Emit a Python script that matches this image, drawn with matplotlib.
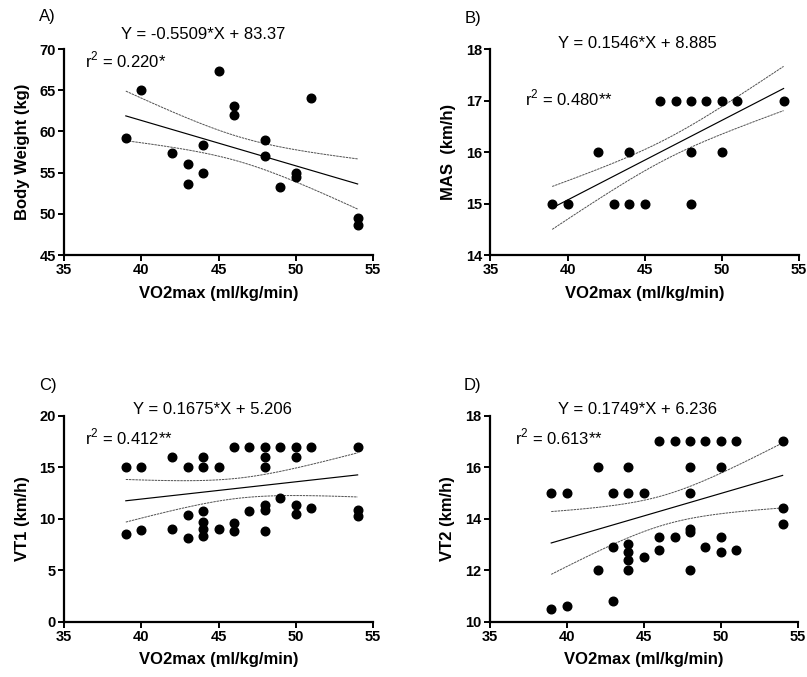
import numpy as np
from matplotlib import pyplot as plt

plt.rcParams["font.family"] = ["Liberation Sans", "DejaVu Sans"]
plt.rcParams["mathtext.fontset"] = "custom"
plt.rcParams["mathtext.rm"] = "Liberation Sans"

# A) body weight
bw_x = [39, 40, 42, 43, 43, 44, 44, 45, 46, 46, 48, 48, 49, 50, 50, 51, 54, 54]
bw_y = [59.2, 65, 57.4, 56.1, 53.6, 58.3, 55, 67.3, 63.1, 62, 59, 57, 53.2, 55, 54.5, 64, 49.5, 48.7]

# B) MAS
mas_x = [39, 40, 42, 43, 44, 44, 45, 46, 47, 48, 48, 48, 49, 50, 50, 51, 54]
mas_y = [15, 15, 16, 15, 15, 16, 15, 17, 17, 17, 16, 15, 17, 17, 16, 17, 17]

# C) VT1 (upper row equals MAS values)
vt1_x = mas_x + [39, 40, 42, 43, 43, 44, 44, 44, 44, 45, 46, 46, 47, 48, 48, 48, 49, 50, 50, 51, 54, 54]
vt1_y = mas_y + [8.5, 8.9, 9.0, 8.1, 10.4, 10.7, 9.65, 9.0, 8.35, 9.0, 9.6, 8.8, 10.7,
                 11.3, 10.8, 8.8, 12.0, 11.3, 10.5, 11.0, 10.8, 10.3]

# D) VT2
vt2_x = mas_x + [54, 54, 46, 47, 48, 48, 50, 43, 44, 44, 44, 44, 45, 46, 49, 50, 51, 42, 48, 39, 40, 43]
vt2_y = mas_y + [14.4, 13.8, 13.3, 13.3, 13.6, 13.5, 13.3, 12.9, 13.0, 12.7, 12.4, 12.0,
                 12.5, 12.8, 12.9, 12.7, 12.8, 12.0, 12.0, 10.5, 10.6, 10.8]

slopes = [-0.5509, 0.1546, 0.1675, 0.1749]
intercepts = [83.37, 8.885, 5.206, 6.236]
r2_labels = ["0.220*", "0.480**", "0.412**", "0.613**"]
band_t = [1.36, 1.19, 1.87, 1.92]

ylabels = ["Body Weight (kg)", "MAS  (km/h)", "VT1 (km/h)", "VT2 (km/h)"]
yticks = [np.arange(45, 71, 5), np.arange(14, 19, 1), np.arange(0, 21, 5), np.arange(10, 19, 2)]
panel_names = ["A)", "B)", "C)", "D)"]

fig = plt.figure(figsize=(8.07, 6.77), dpi=100)

# axes placement (left, bottom, width, height), figure fractions
rects = [
    (0.0793, 0.6233, 0.383, 0.3043),
    (0.6078, 0.6233, 0.3823, 0.3043),
    (0.0793, 0.0817, 0.383, 0.3043),
    (0.6066, 0.0817, 0.3823, 0.3043),
]
eq_pos = [(0.45, 1.072), (0.477, 1.028), (0.481, 1.028), (0.48, 1.028)]
r2_pos = [(0.068, 0.947), (0.111, 0.761), (0.067, 0.898), (0.083, 0.898)]
name_pos = [(0.048, 0.975), (0.576, 0.973), (0.048, 0.431), (0.575, 0.431)]

data = [(bw_x, bw_y), (mas_x, mas_y), (vt1_x, vt1_y), (vt2_x, vt2_y)]

for i, (xs, ys) in enumerate(data):
    ax = fig.add_axes(rects[i])
    x = np.array(xs, dtype=float)
    y = np.array(ys, dtype=float)
    m, b = slopes[i], intercepts[i]

    # 回帰直線と信頼帯
    xx = np.linspace(x.min(), x.max(), 100)
    fit = m * xx + b
    n = len(x)
    resid = y - (m * x + b)
    s = np.sqrt(np.sum(resid**2) / (n - 2))
    sxx = np.sum((x - x.mean()) ** 2)
    se = s * np.sqrt(1 / n + (xx - x.mean()) ** 2 / sxx)
    band = band_t[i] * se

    ax.plot(xx, fit, color="black", linewidth=0.85)
    for sign in (1, -1):
        ax.plot(xx, fit + sign * band, color="#505050", linewidth=0.7,
                linestyle=(0, (2.5, 0.8)))

    ax.plot(x, y, "o", color="black", markersize=6.2, clip_on=False, zorder=3)

    ax.set_xlim(35, 55)
    ax.set_xticks(np.arange(35, 56, 5))
    yt = yticks[i]
    ax.set_ylim(yt[0], yt[-1])
    ax.set_yticks(yt)

    for side in ("top", "right"):
        ax.spines[side].set_visible(False)
    for side in ("left", "bottom"):
        ax.spines[side].set_linewidth(1.6)
    ax.tick_params(direction="out", length=4, width=1.4, labelsize=10.5, pad=2)
    for lab in ax.get_xticklabels() + ax.get_yticklabels():
        lab.set_fontweight("bold")

    ax.set_xlabel("VO2max (ml/kg/min)", fontsize=12, fontweight="bold", labelpad=6)
    ax.set_ylabel(ylabels[i], fontsize=12, fontweight="bold", labelpad=7)

    ax.text(*eq_pos[i], f"Y = {m}*X + {b}", transform=ax.transAxes,
            ha="center", va="center", fontsize=12)
    ax.text(*r2_pos[i], "r$^2$ = " + r2_labels[i], transform=ax.transAxes,
            ha="left", va="center", fontsize=12)
    fig.text(*name_pos[i], panel_names[i], ha="left", va="center", fontsize=12)

fig.savefig("out.png", dpi=100)
